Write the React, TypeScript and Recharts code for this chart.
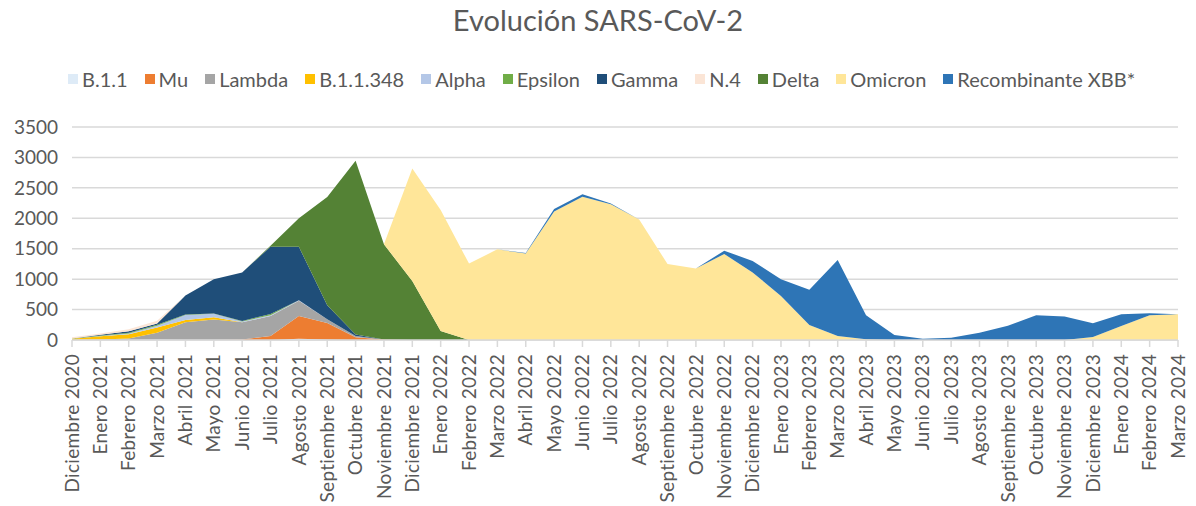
import { AreaChart, Area, XAxis, YAxis, CartesianGrid } from "recharts";

// Meses (Dic 2020 - Mar 2024)
const months = [
  "Diciembre 2020", "Enero 2021", "Febrero 2021", "Marzo 2021", "Abril 2021", "Mayo 2021",
  "Junio 2021", "Julio 2021", "Agosto 2021", "Septiembre 2021", "Octubre 2021", "Noviembre 2021",
  "Diciembre 2021", "Enero 2022", "Febrero 2022", "Marzo 2022", "Abril 2022", "Mayo 2022",
  "Junio 2022", "Julio 2022", "Agosto 2022", "Septiembre 2022", "Octubre 2022", "Noviembre 2022",
  "Diciembre 2022", "Enero 2023", "Febrero 2023", "Marzo 2023", "Abril 2023", "Mayo 2023",
  "Junio 2023", "Julio 2023", "Agosto 2023", "Septiembre 2023", "Octubre 2023", "Noviembre 2023",
  "Diciembre 2023", "Enero 2024", "Febrero 2024", "Marzo 2024",
];

const b11 = [5, 5, 5, 10, 5, 5, 0, 0, 20, 10, 0, 0, 0, 0, 0, 0, 0, 0, 0, 0, 0, 0, 0, 0, 0, 0, 0, 0, 0, 0, 0, 0, 0, 0, 0, 0, 0, 0, 0, 0];
const mu = [0, 0, 0, 0, 0, 0, 10, 66, 376, 270, 45, 10, 0, 0, 0, 0, 0, 0, 0, 0, 0, 0, 0, 0, 0, 0, 0, 0, 0, 0, 0, 0, 0, 0, 0, 0, 0, 0, 0, 0];
const lambda = [0, 5, 20, 110, 285, 330, 280, 330, 247, 60, 20, 0, 0, 0, 0, 0, 0, 0, 0, 0, 0, 0, 0, 0, 0, 0, 0, 0, 0, 0, 0, 0, 0, 0, 0, 0, 0, 0, 0, 0];
const b11348 = [15, 50, 70, 85, 40, 40, 0, 0, 0, 0, 0, 0, 0, 0, 0, 0, 0, 0, 0, 0, 0, 0, 0, 0, 0, 0, 0, 0, 0, 0, 0, 0, 0, 0, 0, 0, 0, 0, 0, 0];
const alpha = [0, 5, 10, 30, 80, 55, 15, 10, 10, 0, 0, 0, 0, 0, 0, 0, 0, 0, 0, 0, 0, 0, 0, 0, 0, 0, 0, 0, 0, 0, 0, 0, 0, 0, 0, 0, 0, 0, 0, 0];
const epsilon = [5, 10, 15, 15, 10, 5, 8, 20, 0, 0, 0, 0, 0, 0, 0, 0, 0, 0, 0, 0, 0, 0, 0, 0, 0, 0, 0, 0, 0, 0, 0, 0, 0, 0, 0, 0, 0, 0, 0, 0];
const gamma = [0, 10, 25, 20, 310, 565, 797, 1108, 880, 230, 25, 0, 0, 0, 0, 0, 0, 0, 0, 0, 0, 0, 0, 0, 0, 0, 0, 0, 0, 0, 0, 0, 0, 0, 0, 0, 0, 0, 0, 0];
const n4 = [20, 20, 30, 45, 0, 0, 0, 0, 0, 0, 0, 0, 0, 0, 0, 0, 0, 0, 0, 0, 0, 0, 0, 0, 0, 0, 0, 0, 0, 0, 0, 0, 0, 0, 0, 0, 0, 0, 0, 0];
const delta = [0, 0, 0, 0, 0, 0, 0, 15, 467, 1780, 2855, 1563, 970, 148, 0, 0, 0, 0, 0, 0, 0, 0, 0, 0, 0, 0, 0, 0, 0, 0, 0, 0, 0, 0, 0, 0, 0, 0, 0, 0];
const omicron = [0, 0, 0, 0, 0, 0, 0, 0, 0, 0, 0, 0, 1848, 1987, 1255, 1490, 1420, 2111, 2352, 2231, 1980, 1247, 1176, 1412, 1110, 725, 247, 66, 11, 0, 0, 0, 0, 0, 0, 0, 50, 231, 407, 423];
const xbb = [0, 0, 0, 0, 0, 0, 0, 0, 0, 0, 0, 0, 0, 0, 0, 0, 10, 40, 45, 10, 0, 0, 0, 55, 190, 275, 577, 1247, 396, 82, 22, 38, 121, 236, 407, 385, 225, 192, 33, 0];

const yTicks = [0, 500, 1000, 1500, 2000, 2500, 3000, 3500];

const series = [
  { key: "b11", name: "B.1.1", color: "#DEEBF7", values: b11 },
  { key: "mu", name: "Mu", color: "#ED7D31", values: mu },
  { key: "lambda", name: "Lambda", color: "#A5A5A5", values: lambda },
  { key: "b11348", name: "B.1.1.348", color: "#FFC000", values: b11348 },
  { key: "alpha", name: "Alpha", color: "#B4C7E7", values: alpha },
  { key: "epsilon", name: "Epsilon", color: "#70AD47", values: epsilon },
  { key: "gamma", name: "Gamma", color: "#1F4E79", values: gamma },
  { key: "n4", name: "N.4", color: "#FBE5D6", values: n4 },
  { key: "delta", name: "Delta", color: "#548235", values: delta },
  { key: "omicron", name: "Omicron", color: "#FFE699", values: omicron },
  { key: "xbb", name: "Recombinante XBB*", color: "#2E75B6", values: xbb },
];

const data = months.map((m, i) => {
  const row: Record<string, string | number> = { month: m };
  series.forEach((s) => (row[s.key] = s.values[i]));
  return row;
});

const FONT = "Lato, 'Open Sans', sans-serif";
const TEXT = "#595959";

function MonthTick({ x, y, payload }: any) {
  return (
    <g transform={`translate(${x},${y + 5})`}>
      <text
        transform="rotate(-90)"
        textAnchor="end"
        dy="0.35em"
        fontSize={19}
        letterSpacing={0.3}
        fill={TEXT}
        fontFamily={FONT}
      >
        {payload.value}
      </text>
    </g>
  );
}

export default function App() {
  return (
    <div style={{ position: "absolute", left: 0, top: 0, width: 1196, height: 506, background: "#fff", fontFamily: FONT }}>
      <div style={{ position: "absolute", top: 2, left: 0, width: 1196, textAlign: "center", fontSize: 29, color: TEXT }}>
        Evolución SARS-CoV-2
      </div>
      <div style={{ position: "absolute", top: 67, left: 68, display: "flex", gap: 17, fontSize: 20, color: TEXT, whiteSpace: "nowrap" }}>
        {series.map((s) => (
          <div key={s.key} style={{ display: "flex", alignItems: "center", gap: 4 }}>
            <span style={{ display: "inline-block", width: 10, height: 10, background: s.color }} />
            <span>{s.name}</span>
          </div>
        ))}
      </div>
      <AreaChart width={1196} height={506} data={data} margin={{ top: 127, right: 18, bottom: 6, left: 0 }}>
        <CartesianGrid vertical={false} stroke="#D9D9D9" strokeWidth={1.5} />
        <XAxis
          dataKey="month"
          interval={0}
          height={160}
          tick={<MonthTick />}
          stroke="#D9D9D9"
          strokeWidth={1.5}
          tickSize={7}
        />
        <YAxis
          domain={[0, 3500]}
          ticks={yTicks}
          width={72}
          axisLine={false}
          tickLine={false}
          tickMargin={8}
          tick={{ fontSize: 19, fill: TEXT, fontFamily: FONT }}
        />
        {series.map((s) => (
          <Area
            key={s.key}
            type="linear"
            dataKey={s.key}
            name={s.name}
            stackId="1"
            fill={s.color}
            fillOpacity={1}
            stroke="none"
            isAnimationActive={false}
          />
        ))}
      </AreaChart>
    </div>
  );
}
